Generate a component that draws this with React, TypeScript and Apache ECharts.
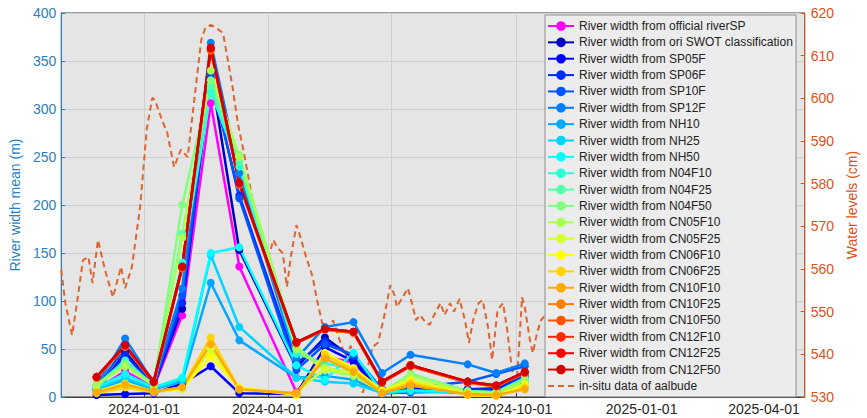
import React, { useEffect, useRef } from "react";
import * as echarts from "echarts";

// ---- data ----
const widthDates = [
  "2023-11-27", "2023-12-18", "2024-01-08", "2024-01-29", "2024-02-19", "2024-03-11", "2024-04-22",
  "2024-05-13", "2024-06-03", "2024-06-24", "2024-07-15", "2024-08-26", "2024-09-16", "2024-10-07",
];

const seriesNames = [
  "River width from official riverSP",
  "River width from ori SWOT classification",
  "River width from SP05F",
  "River width from SP06F",
  "River width from SP10F",
  "River width from SP12F",
  "River width from NH10",
  "River width from NH25",
  "River width from NH50",
  "River width from N04F10",
  "River width from N04F25",
  "River width from N04F50",
  "River width from CN05F10",
  "River width from CN05F25",
  "River width from CN06F10",
  "River width from CN06F25",
  "River width from CN10F10",
  "River width from CN10F25",
  "River width from CN10F50",
  "River width from CN12F10",
  "River width from CN12F25",
  "River width from CN12F50",
];
const insituName = "in-situ data of aalbude";

const riverSP = [8, 27, 10, 85, 306, 136, 5, 42, 36, 4, 14, 7, 5, 18];
const oriSWOT = [5, 47, 12, 92, 339, 153, 31, 62, 40, 6, 8, 8, 8, 20];
const sp05f = [2, 3, 4, 14, 32, 4, 3, 52, 37, 4, 5, 6, 6, 14];
const sp06f = [7, 44, 12, 98, 333, 210, 35, 58, 42, 6, 6, 8, 9, 22];
const sp10f = [9, 52, 13, 106, 336, 207, 28, 55, 44, 8, 10, 16, 24, 32];
const sp12f = [12, 61, 15, 113, 369, 233, 40, 73, 78, 25, 44, 34, 25, 35];
const nh10 = [8, 18, 8, 16, 119, 59, 20, 22, 18, 4, 6, 5, 5, 15];
const nh25 = [9, 20, 9, 18, 148, 73, 20, 16, 14, 4, 6, 4, 4, 12];
const nh50 = [10, 24, 10, 20, 150, 156, 33, 18, 46, 5, 7, 5, 5, 14];
const n04f10 = [12, 38, 12, 140, 318, 240, 45, 35, 30, 5, 22, 6, 5, 20];
const n04f25 = [11, 35, 12, 170, 325, 245, 50, 30, 26, 5, 24, 6, 5, 18];
const n04f50 = [13, 35, 13, 200, 330, 252, 52, 30, 23, 5, 24, 6, 5, 18];
const cn05f10 = [12, 32, 12, 166, 340, 250, 50, 28, 22, 5, 22, 5, 4, 16];
const cn05f25 = [6, 14, 6, 8, 50, 8, 4, 30, 25, 6, 18, 4, 2, 12];
const cn06f10 = [5, 12, 6, 9, 42, 10, 2, 46, 30, 7, 16, 2, 1, 13];
const cn06f25 = [4, 10, 5, 10, 62, 8, 3, 44, 28, 5, 15, 2, 1, 10];
const cn10f10 = [5, 13, 6, 10, 55, 8, 4, 40, 26, 4, 12, 3, 2, 8];
const cn10f25 = [20, 52, 15, 134, 361, 221, 56, 70, 67, 15, 32, 15, 11, 25];
const cn10f50 = [20, 53, 15, 135, 362, 222, 56, 70, 67, 15, 32, 15, 11, 25];
const cn12f10 = [21, 53, 16, 135, 363, 222, 57, 71, 68, 16, 33, 16, 12, 26];
const cn12f25 = [21, 54, 16, 136, 363, 223, 57, 71, 68, 16, 33, 16, 12, 26];
const cn12f50 = [21, 54, 16, 136, 364, 223, 57, 71, 68, 16, 33, 16, 12, 26];

const widthValues = [
  riverSP, oriSWOT, sp05f, sp06f, sp10f, sp12f, nh10, nh25, nh50, n04f10, n04f25, n04f50,
  cn05f10, cn05f25, cn06f10, cn06f25, cn10f10, cn10f25, cn10f50, cn12f10, cn12f25, cn12f50,
];

const insituDates = [
  "2023-11-01", "2023-11-04", "2023-11-09", "2023-11-13", "2023-11-17", "2023-11-21", "2023-11-24",
  "2023-11-28", "2023-12-03", "2023-12-09", "2023-12-15", "2023-12-18", "2023-12-23", "2023-12-29",
  "2024-01-03", "2024-01-07", "2024-01-09", "2024-01-14", "2024-01-18", "2024-01-23", "2024-01-28",
  "2024-01-30", "2024-02-02", "2024-02-07", "2024-02-12", "2024-02-15", "2024-02-19", "2024-02-23",
  "2024-02-28", "2024-03-02", "2024-03-06", "2024-03-10", "2024-03-14", "2024-03-18", "2024-03-21",
  "2024-03-25", "2024-03-28", "2024-04-01", "2024-04-05", "2024-04-08", "2024-04-12", "2024-04-15",
  "2024-04-18", "2024-04-22", "2024-04-24", "2024-04-29", "2024-05-04", "2024-05-07", "2024-05-11",
  "2024-05-16", "2024-05-19", "2024-05-23", "2024-05-28", "2024-06-01", "2024-06-05", "2024-06-10",
  "2024-06-12", "2024-06-17", "2024-06-21", "2024-06-25", "2024-06-28", "2024-06-30", "2024-07-03",
  "2024-07-05", "2024-07-09", "2024-07-13", "2024-07-16", "2024-07-19", "2024-07-22", "2024-07-26",
  "2024-07-29", "2024-08-01", "2024-08-06", "2024-08-09", "2024-08-13", "2024-08-16", "2024-08-20",
  "2024-08-24", "2024-08-27", "2024-08-30", "2024-09-03", "2024-09-06", "2024-09-10", "2024-09-13",
  "2024-09-17", "2024-09-21", "2024-09-24", "2024-09-27", "2024-09-29", "2024-10-01", "2024-10-04",
  "2024-10-05", "2024-10-07", "2024-10-11", "2024-10-13", "2024-10-16", "2024-10-19", "2024-10-24",
];
const insituLevels = [
  559.8, 552, 544.5, 553, 562.1, 562.8, 556.7,
  566.8, 560, 553.4, 560.5, 555.5, 560.5, 574.5,
  593, 600.1, 599.6, 595, 591.9, 583.9, 588,
  587.4, 586.2, 600, 613.7, 616.5, 617.2, 616.5,
  615.3, 610, 602.7, 594, 587.9, 581, 575.5,
  571, 567.5, 562.1, 566.8, 565, 563.7, 555.8,
  563, 570.3, 568.5, 563, 558.1, 553, 547.3,
  546, 548, 544.1, 539.4, 542, 536.3, 531,
  535, 541.7, 542.7, 548, 552.7, 556.2, 554,
  551.1, 553.3, 555.5, 552, 548, 549.2, 547.5,
  546.9, 549, 552, 549.2, 552, 550, 553,
  548, 542.7, 548, 552, 552.7, 546.4, 538.7,
  550.4, 552, 546, 538, 534, 532.5, 548,
  553.4, 551.1, 543, 540.3, 545, 548, 550,
];

const xTickLabels = ["2024-01-01", "2024-04-01", "2024-07-01", "2024-10-01", "2025-01-01", "2025-04-01"];
const xRange = ["2023-11-01", "2025-05-01"];

// ---- style ----
const colors = [
  "#ff00ff", "#0000c0", "#0000ff", "#002bff", "#0055ff", "#0080ff", "#00aaff", "#00d4ff", "#00ffff",
  "#2bffd4", "#55ffaa", "#80ff80", "#aaff55", "#d4ff2b", "#ffff00", "#ffd400", "#ffaa00", "#ff8000",
  "#ff5500", "#ff2b00", "#ff0000", "#d40000",
];
const leftColor = "#2a7fc0";
const rightColor = "#d95319";
const insituColor = "#de6430";
const FONT = "Liberation Sans, Arial, sans-serif";

const toTs = (s: string) => {
  const [y, m, d] = s.split("-").map(Number);
  return new Date(y, m - 1, d).getTime();
};
const fmt = (v: number) => {
  const d = new Date(v);
  return `${d.getFullYear()}-${String(d.getMonth() + 1).padStart(2, "0")}-${String(d.getDate()).padStart(2, "0")}`;
};

export default function App() {
  const ref = useRef<HTMLDivElement>(null);
  useEffect(() => {
    if (!ref.current) return;
    const chart = echarts.init(ref.current, undefined, { renderer: "svg" });
    const DAY = 86400000;
    const tickSet = new Set(xTickLabels);

    const widthSeries = seriesNames.map((name, i) => ({
      name,
      type: "line",
      xAxisIndex: 0,
      yAxisIndex: 0,
      data: widthDates.map((d, j) => [toTs(d), widthValues[i][j]]),
      symbol: "circle",
      symbolSize: 8,
      showSymbol: true,
      lineStyle: { width: 2.5, color: colors[i] },
      itemStyle: { color: colors[i] },
      z: 3,
      silent: true,
    }));

    const option: any = {
      animation: false,
      backgroundColor: "#ffffff",
      textStyle: { fontFamily: FONT },
      grid: {
        left: 56,
        right: 52,
        top: 13,
        bottom: 21,
        show: true,
        backgroundColor: "#e5e5e5",
        borderColor: "#3a3a3a",
        borderWidth: 1,
      },
      legend: {
        orient: "vertical",
        left: 545,
        top: 15,
        itemWidth: 26,
        itemHeight: 12,
        itemGap: 4.36,
        padding: [5, 3, 5, 2],
        backgroundColor: "#ececec",
        borderColor: "#8c8c8c",
        borderWidth: 1,
        borderRadius: 0,
        textStyle: { fontSize: 12, lineHeight: 12, color: "#222222", fontFamily: FONT },
        data: [...seriesNames, { name: insituName, itemStyle: { opacity: 0 } }],
        selectedMode: false,
      },
      xAxis: {
        type: "time",
        min: toTs(xRange[0]),
        max: toTs(xRange[1]),
        minInterval: 92 * DAY,
        maxInterval: 92 * DAY,
        axisLine: { show: true, lineStyle: { color: "#3a3a3a", width: 1 } },
        axisTick: { show: true, inside: true, length: 4, lineStyle: { color: "#3a3a3a" } },
        axisLabel: {
          formatter: (v: number) => {
            const s = fmt(v);
            return tickSet.has(s) ? s : "";
          },
          fontSize: 14,
          color: "#262626",
          margin: 5,
          fontFamily: FONT,
          showMinLabel: false,
          showMaxLabel: false,
          hideOverlap: false,
        },
        splitLine: { show: true, lineStyle: { color: "#cfcfcf", width: 1 } },
      },
      yAxis: [
        {
          type: "value",
          position: "left",
          min: 0,
          max: 400,
          interval: 50,
          name: "River width mean (m)",
          nameLocation: "middle",
          nameRotate: 90,
          nameGap: 28,
          nameTextStyle: { color: leftColor, fontSize: 14, fontFamily: FONT },
          axisLine: { show: true, lineStyle: { color: leftColor, width: 1 } },
          axisTick: { show: true, inside: true, length: 4, lineStyle: { color: leftColor } },
          axisLabel: { color: leftColor, fontSize: 14, margin: 5, fontFamily: FONT },
          splitLine: { show: true, lineStyle: { color: "#cfcfcf", width: 1 } },
        },
        {
          type: "value",
          position: "right",
          min: 530,
          max: 620,
          interval: 10,
          name: "Water levels (cm)",
          nameLocation: "middle",
          nameRotate: 90,
          nameGap: 34,
          nameTextStyle: { color: rightColor, fontSize: 14, fontFamily: FONT },
          axisLine: { show: true, lineStyle: { color: rightColor, width: 1 } },
          axisTick: { show: true, inside: true, length: 4, lineStyle: { color: rightColor } },
          axisLabel: { color: rightColor, fontSize: 14, margin: 6, fontFamily: FONT },
          splitLine: { show: false },
        },
      ],
      series: [
        {
          name: insituName,
          type: "line",
          xAxisIndex: 0,
          yAxisIndex: 1,
          data: insituDates.map((d, j) => [toTs(d), insituLevels[j]]),
          symbol: "none",
          showSymbol: false,
          lineStyle: { width: 2, color: insituColor, type: [6, 4] },
          itemStyle: { color: insituColor },
          z: 2,
          silent: true,
        },
        ...widthSeries,
      ],
    };
    chart.setOption(option);
    return () => chart.dispose();
  }, []);

  return <div ref={ref} style={{ width: 867, height: 418, position: "absolute", left: 0, top: 0 }} />;
}
